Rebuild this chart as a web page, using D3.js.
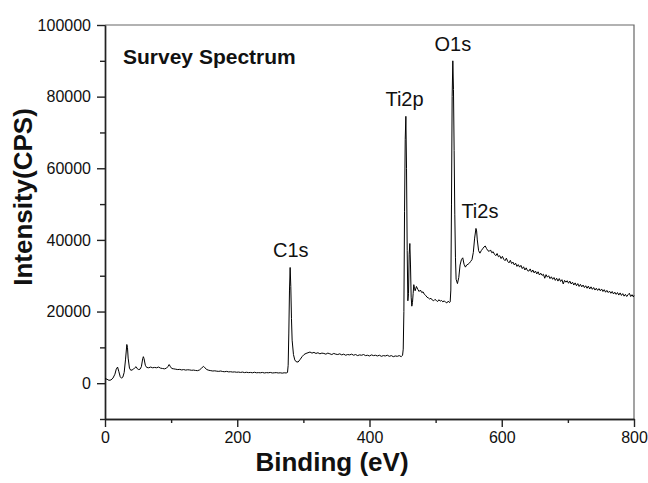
<!DOCTYPE html>
<html>
<head>
<meta charset="utf-8">
<script src="https://cdn.jsdelivr.net/npm/d3@7/dist/d3.min.js"></script>
<style>
	body { margin: 0; background: #fff; }
	svg text { font-family: "Liberation Sans", Arial, sans-serif; fill: #111; }
	.axis path, .axis line { stroke: #222; stroke-width: 1.4; }
	.axis text { font-size: 16px; }
	.frame { stroke: #666; stroke-width: 1.2; fill: none; }
	.spectrum { fill: none; stroke: #000; stroke-width: 1; }
</style>
</head>
<body>
<div class="chart__xps"><svg></svg></div>
<script>
(function() {

	// DATA
	var bindingEnergy = [
		0, 3, 6, 9, 12, 15, 17, 19, 21, 23, 25, 27, 29, 31, 33, 34, 35, 37, 39, 41,
		43, 45, 47, 49, 51, 53, 55, 57, 58, 59, 61, 63, 66, 69, 72, 75, 78, 81, 84, 87,
		90, 93, 95, 97, 99, 101, 104, 107, 110, 113, 116, 119, 122, 125, 128, 131, 134, 137, 140, 143,
		146, 149, 151, 154, 157, 160, 163, 166, 169, 172, 175, 178, 181, 184, 187, 190, 193, 196, 199, 202,
		205, 208, 211, 214, 217, 220, 223, 226, 229, 232, 235, 238, 241, 244, 247, 250, 253, 256, 259, 262,
		265, 268, 271, 274, 276, 277, 278, 279, 280, 281, 282, 283, 285, 287, 289, 292, 295, 298, 301, 304,
		307, 310, 313, 316, 319, 322, 325, 328, 331, 334, 337, 340, 343, 346, 349, 352, 355, 358, 361, 364,
		367, 370, 373, 376, 379, 382, 385, 388, 391, 394, 397, 400, 403, 406, 409, 412, 415, 418, 421, 424,
		427, 430, 433, 436, 439, 442, 445, 448, 450, 451, 452, 453, 454, 455, 456, 457, 458, 459, 460, 461,
		462, 463, 464, 465, 466, 467, 468, 469, 471, 473, 475, 477, 479, 481, 483, 485, 487, 489, 491, 493,
		495, 497, 499, 501, 503, 505, 507, 509, 511, 513, 515, 517, 519, 521, 522, 523, 524, 525, 526, 527,
		528, 529, 530, 531, 533, 535, 537, 539, 541, 543, 545, 547, 549, 551, 553, 555, 557, 559, 561, 562,
		563, 565, 567, 569, 571, 573, 575, 577, 579, 581, 583, 585, 587, 589, 591, 593, 595, 597, 599, 601,
		603, 605, 607, 609, 611, 613, 615, 617, 619, 621, 623, 625, 627, 629, 631, 633, 635, 637, 639, 641,
		643, 645, 647, 649, 651, 653, 655, 657, 659, 661, 663, 665, 667, 669, 671, 673, 675, 677, 679, 681,
		683, 685, 687, 689, 691, 693, 695, 697, 699, 701, 703, 705, 707, 709, 711, 713, 715, 717, 719, 721,
		723, 725, 727, 729, 731, 733, 735, 737, 739, 741, 743, 745, 747, 749, 751, 753, 755, 757, 759, 761,
		763, 765, 767, 769, 771, 773, 775, 777, 779, 781, 783, 785, 787, 789, 791, 793, 795, 797, 799, 800
	];
	var intensity = [
		1300, 1100, 800, 900, 1400, 2500, 3900, 4500, 3200, 1800, 1400, 1700, 3000, 6500, 10800, 10000, 7000, 4200, 3600, 3700,
		3900, 4300, 4600, 4000, 3800, 3900, 4600, 6800, 7400, 6900, 5000, 4400, 4300, 4500, 4300, 4400, 4300, 4500, 4200, 4100,
		4000, 4200, 4600, 5200, 4600, 4100, 4000, 3900, 3800, 3850, 3700, 3800, 3650, 3750, 3700, 3600, 3650, 3550, 3500, 3700,
		4200, 4700, 4300, 3800, 3600, 3500, 3400, 3450, 3350, 3300, 3400, 3250, 3200, 3300, 3150, 3200, 3100, 3150, 3050, 3100,
		3000, 3100, 2950, 3050, 2950, 3000, 2900, 3050, 2900, 2950, 2900, 3000, 2850, 2950, 2900, 3000, 2850, 2900, 2950, 2850,
		2900, 2800, 2900, 2850, 3000, 5000, 14000, 26000, 32300, 27000, 18000, 12000, 8000, 6500, 6000, 5900, 6600, 7400, 8000, 8300,
		8500, 8700, 8400, 8600, 8300, 8500, 8200, 8400, 8300, 8100, 8400, 8200, 8000, 8300, 8100, 8000, 8200, 7900, 8100, 7800,
		8000, 7900, 8100, 7800, 8000, 7700, 7900, 7800, 8000, 7700, 7800, 7600, 7900, 7700, 7800, 7600, 7800, 7500, 7700, 7600,
		7800, 7500, 7700, 7400, 7600, 7500, 7700, 7400, 7800, 9500, 20000, 48000, 68000, 74500, 60000, 37000, 23000, 25000, 36000, 39000,
		33000, 24000, 21500, 22500, 25000, 27500, 26500, 25800, 27000, 26200, 25600, 26000, 25300, 25500, 24800, 24500, 24000, 23800, 23500, 23700,
		23200, 23000, 23400, 23100, 22800, 23300, 22900, 23100, 22700, 23000, 22600, 22400, 22900, 22500, 22700, 26000, 50000, 80000, 90000, 82000,
		65000, 47000, 35000, 29000, 27800, 29500, 33000, 34500, 35000, 33200, 32400, 33000, 33200, 33500, 34000, 34500, 36500, 40500, 43200, 42500,
		40000, 37000, 36300, 37000, 37500, 38000, 38300, 37600, 37000, 36800, 37200, 36400, 36700, 36000, 35600, 36200, 35300, 35600, 34800, 35400,
		34600, 34200, 34900, 34000, 33600, 34300, 33400, 33800, 33000, 33500, 32600, 33100, 32400, 32900, 32000, 32500, 31600, 32200, 31400, 31300,
		31900, 31000, 31600, 30800, 31300, 30500, 31100, 30200, 30700, 30100, 30400, 29300, 30300, 29600, 30000, 29200, 29700, 29000, 29500, 28700,
		29300, 28500, 29200, 28400, 28900, 27700, 28700, 28200, 28600, 27900, 28500, 27700, 28200, 27400, 28000, 27200, 27800, 27000, 27600, 26900,
		27400, 26700, 27200, 26500, 27100, 26300, 26900, 26200, 26700, 26000, 26500, 25900, 26400, 25800, 26300, 25600, 26100, 25400, 25900, 25300,
		25700, 25100, 25600, 24900, 25400, 24800, 25300, 24600, 25200, 24500, 25000, 24300, 24800, 24200, 24700, 25100, 24200, 24700, 24100, 24500
	];

	var peakNames = ['C1s', 'Ti2p', 'O1s', 'Ti2s'];
	var peakEnergy = [281, 453, 526, 567];
	var peakIntensity = [32300, 74500, 90000, 43200];

	var xMajorTicks = [0, 200, 400, 600, 800];
	var xMinorTicks = [100, 300, 500, 700];
	var yMajorTicks = [0, 20000, 40000, 60000, 80000, 100000];
	var yMinorTicks = [-10000, 10000, 30000, 50000, 70000, 90000];

	var panelTitle = 'Survey Spectrum';
	var xTitle = 'Binding (eV)';
	var yTitle = 'Intensity(CPS)';

	// SIZES
	var svgWidth = 648;
	var svgHeight = 483;
	var margin = {top: 25, right: 14, bottom: 64, left: 105};
	var width = svgWidth - margin.left - margin.right;
	var height = svgHeight - margin.top - margin.bottom;

	var svg = d3.select('.chart__xps svg')
		.attr('width', svgWidth)
		.attr('height', svgHeight);

	var g = svg.append('g')
		.attr('transform', 'translate(' + margin.left + ',' + margin.top + ')');

	// SCALES
	var x = d3.scaleLinear().domain([0, 800]).range([0, width]);
	var y = d3.scaleLinear().domain([-10000, 100000]).range([height, 0]);

	// FRAME (top + right are the lighter lines)
	g.append('path')
		.attr('class', 'frame')
		.attr('d', 'M0,0H' + width + 'V' + height);

	// AXES
	g.append('g')
		.attr('class', 'axis axis--x')
		.attr('transform', 'translate(0,' + height + ')')
		.call(d3.axisBottom(x).tickValues(xMajorTicks).tickSize(8).tickSizeOuter(0).tickPadding(5));
	g.append('g')
		.attr('class', 'axis axis--x-minor')
		.attr('transform', 'translate(0,' + height + ')')
		.call(d3.axisBottom(x).tickValues(xMinorTicks).tickSize(4).tickSizeOuter(0).tickFormat(''));

	g.append('g')
		.attr('class', 'axis axis--y')
		.call(d3.axisLeft(y).tickValues(yMajorTicks).tickSize(8).tickSizeOuter(0).tickPadding(6).tickFormat(d3.format('d')));
	g.append('g')
		.attr('class', 'axis axis--y-minor')
		.call(d3.axisLeft(y).tickValues(yMinorTicks).tickSize(5).tickSizeOuter(0).tickFormat(''));

	g.selectAll('.axis text').style('fill', '#111');

	// SPECTRUM
	var line = d3.line()
		.x(function(d, i) { return x(bindingEnergy[i]); })
		.y(function(d) { return y(d); });

	g.append('path')
		.datum(intensity)
		.attr('class', 'spectrum')
		.attr('d', line);

	// PEAK LABELS
	g.selectAll('.peak-label')
		.data(peakNames)
		.enter()
		.append('text')
			.attr('class', 'peak-label')
			.attr('x', function(d, i) { return x(peakEnergy[i]); })
			.attr('y', function(d, i) { return y(peakIntensity[i]) - 10; })
			.attr('text-anchor', 'middle')
			.style('font-size', '20px')
			.text(function(d) { return d; });

	// TITLES
	g.append('text')
		.attr('x', 18)
		.attr('y', 39)
		.style('font-size', '21px')
		.style('font-weight', 'bold')
		.text(panelTitle);

	svg.append('text')
		.attr('x', 332)
		.attr('y', 471)
		.attr('text-anchor', 'middle')
		.style('font-size', '26px')
		.style('font-weight', 'bold')
		.text(xTitle);

	svg.append('text')
		.attr('transform', 'translate(32,197) rotate(-90)')
		.attr('text-anchor', 'middle')
		.style('font-size', '26px')
		.style('font-weight', 'bold')
		.text(yTitle);

})()
</script>
</body>
</html>
